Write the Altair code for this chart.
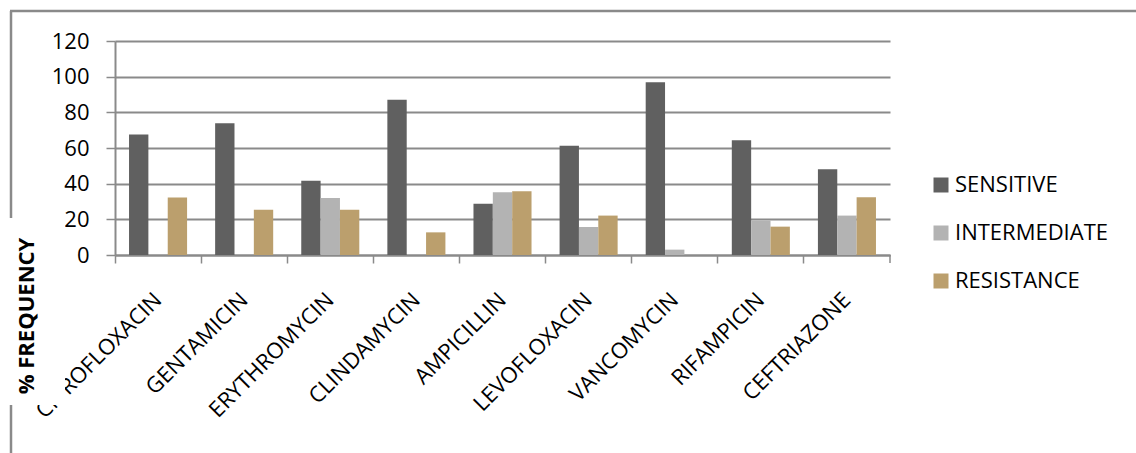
import altair as alt
import pandas as pd

categories = ["CIPROFLOXACIN", "GENTAMICIN", "ERYTHROMYCIN", "CLINDAMYCIN", "AMPICILLIN",
              "LEVOFLOXACIN", "VANCOMYCIN", "RIFAMPICIN", "CEFTRIAZONE"]
series = ["SENSITIVE", "INTERMEDIATE", "RESISTANCE"]
sensitive = [67.6, 73.9, 41.6, 87.1, 28.7, 61.2, 96.8, 64.4, 48.1]
intermediate = [0, 0, 32.0, 0, 35.2, 15.7, 3.0, 19.3, 22.1]
resistance = [32.2, 25.4, 25.4, 12.7, 35.7, 22.1, 0, 15.9, 32.4]
colors = ["#606060", "#b3b3b3", "#bb9f6d"]
y_ticks = [0, 20, 40, 60, 80, 100, 120]
y_title = "% FREQUENCY"

rows = []
for i, c in enumerate(categories):
    for s, vals in zip(series, [sensitive, intermediate, resistance]):
        rows.append({"drug": c, "series": s, "value": vals[i]})
df = pd.DataFrame(rows)

FONT = "Open Sans"
FS = 22
GRAY = "#8a8a8a"
W, H = 775, 214
PAD = {"left": 115, "top": 41, "right": 1136 - 115 - W, "bottom": 453 - 41 - H}

one = pd.DataFrame({"k": [0]})

bars = alt.Chart(df).mark_bar().encode(
    x=alt.X("drug:N", sort=categories,
            scale=alt.Scale(paddingInner=0, paddingOuter=0),
            axis=alt.Axis(title=None, labelAngle=-45, labelAlign="right", labelBaseline="middle",
                          labelFont=FONT, labelFontSize=FS, labelColor="#000", labelPadding=33,
                          labelLimit=500, labelOverlap=False, bandPosition=0,
                          tickSize=8, tickColor=GRAY, tickWidth=1.5,
                          domainColor=GRAY, domainWidth=2, grid=False, zindex=0)),
    y=alt.Y("value:Q", scale=alt.Scale(domain=[0, 120], nice=False),
            axis=alt.Axis(title=None, values=y_ticks, labelFont=FONT, labelFontSize=FS,
                          labelColor="#000", labelPadding=17, tickSize=9, tickColor=GRAY,
                          tickWidth=1.5, domainColor=GRAY, domainWidth=2,
                          grid=True, gridColor=GRAY, gridWidth=2, zindex=0)),
    xOffset=alt.XOffset("series:N", sort=series,
                        scale=alt.Scale(paddingInner=0, paddingOuter=0.725)),
    color=alt.Color("series:N", sort=series,
                    scale=alt.Scale(domain=series, range=colors),
                    legend=alt.Legend(title=None, orient="none", legendX=815, legendY=133,
                                      symbolType="square", symbolSize=225, symbolStrokeWidth=0,
                                      labelFont=FONT, labelFontSize=FS, labelColor="#000",
                                      labelOffset=3, rowPadding=26, padding=0)),
)

border_top = alt.Chart(one).mark_rule(color=GRAY, strokeWidth=2.5).encode(
    x=alt.value(-105), x2=alt.value(1136 - 115), y=alt.value(-30))
border_left = alt.Chart(one).mark_rule(color=GRAY, strokeWidth=2.5).encode(
    x=alt.value(-104), y=alt.value(-30), y2=alt.value(453 - 41))
white_box = alt.Chart(one).mark_rect(color="white").encode(
    x=alt.value(-110), x2=alt.value(-50), y=alt.value(177), y2=alt.value(364))
title_text = alt.Chart(one).mark_text(angle=270, font=FONT, fontSize=FS, fontWeight="bold",
                                      align="center", baseline="middle", color="#000").encode(
    x=alt.value(-88), y=alt.value(275), text=alt.value(y_title))
end_tick = alt.Chart(one).mark_rule(color=GRAY, strokeWidth=1.5).encode(
    x=alt.value(W), y=alt.value(H), y2=alt.value(H + 8))

chart = alt.layer(border_top, border_left, bars, white_box, title_text, end_tick).properties(
    width=W, height=H, padding=PAD, autosize=alt.AutoSizeParams(type="none"),
    background="white",
).configure_view(stroke=None)

chart.save("out.html", embed_options={"renderer": "svg", "actions": False})
